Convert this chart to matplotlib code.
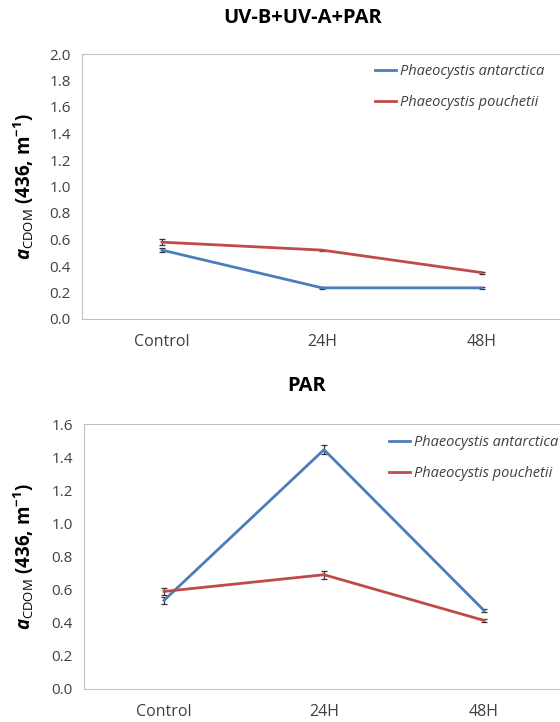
import numpy as np
import matplotlib
matplotlib.use('Agg')
import matplotlib.pyplot as plt

plt.rcParams['font.family'] = ['Open Sans', 'DejaVu Sans']
plt.rcParams['mathtext.fontset'] = 'custom'
plt.rcParams['mathtext.it'] = 'Open Sans:italic:bold'
plt.rcParams['mathtext.rm'] = 'Open Sans'
plt.rcParams['mathtext.bf'] = 'Open Sans:bold'

# data
groups = ['Control', '24H', '48H']
species = ['Phaeocystis antarctica', 'Phaeocystis pouchetii']

uv_antarctica = [0.52, 0.235, 0.235]
uv_antarctica_err = [0.016, 0.01, 0.008]
uv_pouchetii = [0.58, 0.52, 0.35]
uv_pouchetii_err = [0.025, 0.004, 0.008]

par_antarctica = [0.535, 1.445, 0.474]
par_antarctica_err = [0.023, 0.027, 0.01]
par_pouchetii = [0.589, 0.69, 0.414]
par_pouchetii_err = [0.02, 0.025, 0.01]

blue = '#4a7ebb'
red = '#be4b48'
txt = '#404040'

W, H = 560, 722
fig = plt.figure(figsize=(W / 100, H / 100), dpi=100)


def panel(left, top, bottom, ymax, a_vals, a_err, p_vals, p_err, leg_x, leg_y):
    ax = fig.add_axes([left / W, 1 - bottom / H, 480 / W, (bottom - top) / H])
    x = np.arange(len(groups))
    ax.errorbar(x, a_vals, yerr=a_err, color=blue, lw=2, ecolor='#333333',
                elinewidth=0.9, capsize=2, capthick=0.9, label=species[0])
    ax.errorbar(x, p_vals, yerr=p_err, color=red, lw=2, ecolor='#333333',
                elinewidth=0.9, capsize=2, capthick=0.9, label=species[1])
    ax.set_xlim(-0.5, 2.5)
    ax.set_ylim(0, ymax)
    ax.set_yticks(np.arange(0, ymax + 0.01, 0.2))
    ax.yaxis.set_major_formatter(plt.FormatStrFormatter('%.1f'))
    ax.set_xticks(x)
    ax.set_xticklabels(groups)
    ax.tick_params(length=0, labelsize=11, colors=txt, pad=8)
    ax.tick_params(axis='x', labelsize=11.5, pad=11)
    for s in ax.spines.values():
        s.set_color('#c0c0c0')
    handles, labels = ax.get_legend_handles_labels()
    handles = [h[0] for h in handles]
    leg = fig.legend(handles, labels, loc='upper left',
                     bbox_to_anchor=(leg_x / W, 1 - leg_y / H), frameon=False,
                     prop={'style': 'italic', 'size': 10.5}, handlelength=1.45,
                     handletextpad=0.25, labelspacing=1.1, borderpad=0,
                     borderaxespad=0)
    for t in leg.get_texts():
        t.set_color(txt)
    return ax


ax1 = panel(82, 54, 319, 2.0, uv_antarctica, uv_antarctica_err,
            uv_pouchetii, uv_pouchetii_err, 375, 64)
ax2 = panel(84, 424, 689, 1.6, par_antarctica, par_antarctica_err,
            par_pouchetii, par_pouchetii_err, 389, 435)

ylab = r'$a_{\mathrm{CDOM}}$ (436, m$^{\mathbf{-1}}$)'
fig.text(24 / W, 1 - 186.5 / H, ylab, rotation=90, ha='center', va='center',
         fontsize=13.5, fontweight='bold', color='black')
fig.text(24 / W, 1 - 556.5 / H, ylab, rotation=90, ha='center', va='center',
         fontsize=13.5, fontweight='bold', color='black')

fig.text(303 / W, 1 - 18 / H, 'UV-B+UV-A+PAR', ha='center', va='center',
         fontsize=14.5, fontweight='bold')
fig.text(307 / W, 1 - 386 / H, 'PAR', ha='center', va='center',
         fontsize=14.5, fontweight='bold')

fig.savefig('out.png', dpi=100)
